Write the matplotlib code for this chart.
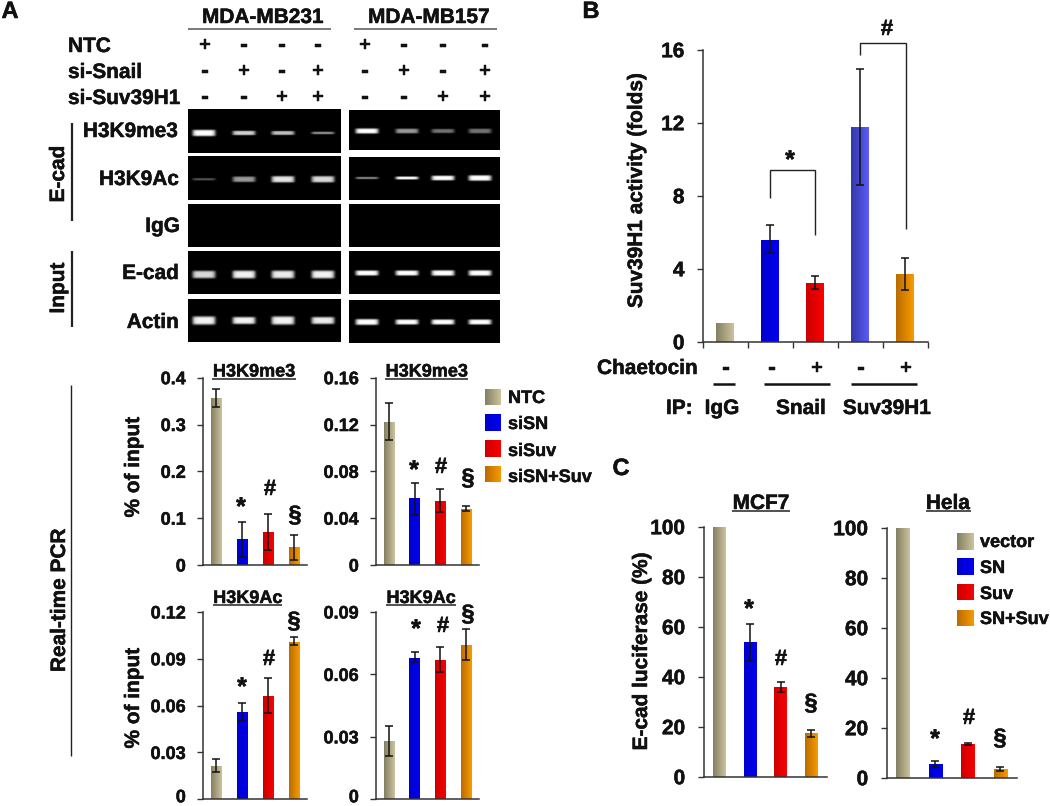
import numpy as np
import matplotlib
matplotlib.use("Agg")
import matplotlib.pyplot as plt
import matplotlib.patheffects as pe
from matplotlib.colors import LinearSegmentedColormap as LSC
from matplotlib.transforms import ScaledTranslation

plt.rcParams['font.family'] = ['Liberation Sans', 'DejaVu Sans']
plt.rcParams['font.weight'] = 'bold'
W, H = 1050, 806
TXT = '#111111'
HEAVY = [pe.withStroke(linewidth=0.35, foreground=TXT)]

# ---------- data ----------
tan = ('#857f63', '#cbc39d'); blue = ('#0000cc', '#0000f2')
red = ('#cc0000', '#fa0000'); orange = ('#b96c00', '#f89a00')
indigo = ('#3438a8', '#5a5cf6')

a1_vals = [0.357, 0.055, 0.070, 0.038]
a1_low = [0.338, 0.018, 0.033, 0.010]
a1_high = [0.375, 0.091, 0.108, 0.065]
a2_vals = [0.122, 0.057, 0.055, 0.048]
a2_low = [0.107, 0.043, 0.045, 0.046]
a2_high = [0.138, 0.070, 0.065, 0.050]
a3_vals = [0.0215, 0.056, 0.066, 0.101]
a3_low = [0.0175, 0.050, 0.055, 0.099]
a3_high = [0.0255, 0.062, 0.078, 0.104]
a4_vals = [0.028, 0.068, 0.067, 0.074]
a4_low = [0.021, 0.066, 0.061, 0.067]
a4_high = [0.035, 0.071, 0.073, 0.082]
b_vals = [1.0, 5.6, 3.2, 11.75, 3.7]
b_low = [None, 4.85, 2.9, 8.6, 2.85]
b_high = [None, 6.4, 3.6, 14.95, 4.6]
c1_vals = [100, 53.7, 35.8, 17.4]
c1_low = [None, 46.4, 33.8, 16.0]
c1_high = [None, 61.2, 37.8, 18.8]
c2_vals = [100, 5.6, 13.3, 3.4]
c2_low = [None, 4.4, 13.0, 2.5]
c2_high = [None, 6.6, 13.8, 4.2]

legend_a = ['NTC', 'siSN', 'siSuv', 'siSN+Suv']
legend_c = ['vector', 'SN', 'Suv', 'SN+Suv']
gel_rows = ['H3K9me3', 'H3K9Ac', 'IgG', 'E-cad', 'Actin']
gel_left = [[1, .82, .75, .55], [.32, .6, .9, .85], [0, 0, 0, 0], [.85, .95, .92, .95], [.95, .95, .95, .92]]
gel_right = [[1, .6, .45, .45], [.55, 1, 1, 1], [0, 0, 0, 0], [1, 1, 1, 1], [1, 1, 1, 1]]
left_th = [[3.2, 2.2, 2.0, 1.3], [1.2, 2.8, 3.2, 3.2], [1, 1, 1, 1], [3.8, 4.0, 4.0, 4.0], [4.2, 3.6, 4.2, 3.6]]
right_th = [[2.6, 2.4, 2.1, 2.4], [1.1, 1.5, 2.4, 2.8], [1, 1, 1, 1], [2.6, 2.6, 2.8, 2.8], [3.0, 2.6, 2.6, 2.6]]
sign_rows = ['NTC', 'si-Snail', 'si-Suv39H1']
signs = [['+', '-', '-', '-'], ['-', '+', '-', '+'], ['-', '-', '+', '+']]

fig = plt.figure(figsize=(W / 100, H / 100), dpi=100, facecolor='white')


def px_axes(x0, x1, ytop, ybot):
    return fig.add_axes([x0 / W, 1 - ybot / H, (x1 - x0) / W, (ybot - ytop) / H])


def grad_bars(ax, x, vals, width, cols):
    bars = ax.bar(x, vals, width=width, color=[c[1] for c in cols], zorder=2)
    for b, c in zip(bars, cols):
        im = ax.imshow(np.linspace(0, 1, 32).reshape(1, -1),
                       extent=(b.get_x(), b.get_x() + b.get_width(), 0, b.get_height()),
                       cmap=LSC.from_list('g', c), aspect='auto', zorder=2.1, interpolation='bilinear')
        im.set_clip_path(b)


def panel(box, vals, low, high, ymax, ticks, labels, cols, width, size, pad, xticks=False, lift_zero=False):
    ax = px_axes(*box)
    x = np.arange(len(vals))
    grad_bars(ax, x, vals, width, cols)
    for xi, l, h in zip(x, low, high):
        if l is not None:
            ax.errorbar(xi, (l + h) / 2, yerr=(h - l) / 2, color='#111111', lw=1.1,
                        capsize=2.6, capthick=1.1, zorder=3)
    ax.set_xlim(-0.5, len(vals) - 0.5)
    ax.set_ylim(0, ymax)
    ax.set_yticks(ticks)
    ax.set_yticklabels(labels, fontsize=size, color=TXT, fontweight='bold', path_effects=HEAVY)
    ax.tick_params(axis='y', length=4.3, width=1, color='#333333', pad=pad)
    if lift_zero:
        zero = ax.get_yticklabels()[0]
        zero.set_transform(zero.get_transform() + ScaledTranslation(0, 2.5 / 72, fig.dpi_scale_trans))
    if xticks:
        ax.set_xticks(np.arange(len(vals) + 1) - 0.5)
        ax.set_xticklabels([])
        ax.tick_params(axis='x', length=4.3, width=1, color='#333333')
    else:
        ax.set_xticks([])
    for s in ('top', 'right'):
        ax.spines[s].set_visible(False)
    for s in ('left', 'bottom'):
        ax.spines[s].set_color('#333333')
        ax.spines[s].set_linewidth(1.1)
    return ax


c4 = [tan, blue, red, orange]
panel((203, 307, 377.7, 565), a1_vals, a1_low, a1_high, 0.4, [0, .1, .2, .3, .4],
      ['0', '0.1', '0.2', '0.3', '0.4'], c4, 0.40, 13, 8)
panel((376, 479, 377.7, 565), a2_vals, a2_low, a2_high, 0.16, [0, .04, .08, .12, .16],
      ['0', '0.04', '0.08', '0.12', '0.16'], c4, 0.40, 13, 8)
panel((203, 307, 612, 799.3), a3_vals, a3_low, a3_high, 0.12, [0, .03, .06, .09, .12],
      ['0', '0.03', '0.06', '0.09', '0.12'], c4, 0.40, 13, 8, lift_zero=True)
panel((376, 479, 612, 799.3), a4_vals, a4_low, a4_high, 0.09, [0, .03, .06, .09],
      ['0', '0.03', '0.06', '0.09'], c4, 0.40, 13, 8, lift_zero=True)
panel((703, 927.5, 49.7, 341.7), b_vals, b_low, b_high, 16, [0, 4, 8, 12, 16],
      ['0', '4', '8', '12', '16'], [tan, blue, red, indigo, orange], 0.40, 15, 9, xticks=True)
panel((703.7, 826.7, 526.7, 776.7), c1_vals, c1_low, c1_high, 100, [0, 20, 40, 60, 80, 100],
      ['0', '20', '40', '60', '80', '100'], c4, 0.41, 15, 9)
panel((886.7, 1016.7, 527.7, 777.7), c2_vals, c2_low, c2_high, 100, [0, 20, 40, 60, 80, 100],
      ['0', '20', '40', '60', '80', '100'], c4, 0.41, 15, 9)

# ---------- overlay in image pixels ----------
ov = fig.add_axes([0, 0, 1, 1], zorder=10)
ov.patch.set_alpha(0)
ov.axis('off')


def T(x, y, s, size=15, ha='center', rot=0):
    if rot:
        x += 1.5
    else:
        y += 1.5
    ov.text(x, y, s, fontsize=size, ha=ha, va='center', rotation=rot, color=TXT, fontweight='bold',
            path_effects=HEAVY)


def L(xs, ys, lw=1.3, c='#222222'):
    ov.plot(xs, ys, color=c, lw=lw, solid_capstyle='butt', solid_joinstyle='miter')


def gel(x0, x1, y0, y1, centers, yc, levels, thick, halfw):
    xx = np.arange(x0, x1, 0.5) + 0.25
    yy = np.arange(y0, y1, 0.5) + 0.25
    X, Y = np.meshgrid(xx, yy)
    img = np.zeros_like(X)
    for cx, lv, th in zip(centers, levels, thick):
        if lv == 0:
            continue
        d = np.abs((X - cx) / halfw) ** 8 + np.abs((Y - yc) / th) ** 5
        img = np.maximum(img, lv * np.exp(-d))
    ov.imshow(img, extent=(x0, x1, y1, y0), cmap='gray', vmin=0, vmax=1, aspect='auto',
              interpolation='bilinear', zorder=1)


left_c = [204, 244, 283, 323]
right_c = [367, 407, 443, 480]
left_rows = [(110, 153.5, 133.7), (157, 200.5, 180), (204, 247, 225), (251, 294, 274.5), (299, 342, 320.5)]
right_rows = [(110, 150, 131), (157, 200, 178), (204, 247, 225), (251, 294, 273), (300, 343, 322)]
for r in range(5):
    a, b, yc = left_rows[r]
    gel(188, 341, a, b, left_c, yc, gel_left[r], left_th[r], 11.5)
    a, b, yc = right_rows[r]
    gel(349, 500, a, b, right_c, yc, gel_right[r], right_th[r], 11.5)

# headers
T(263, 16, 'MDA-MB231'); T(429, 16, 'MDA-MB157')
L([188, 331], [29, 29], 1.1, '#555555'); L([354, 497], [29, 29], 1.1, '#555555')
for i, (name, y) in enumerate(zip(sign_rows, [45, 71, 97])):
    T(68, y, name, ha='left')
    for s, xp in zip(signs[i], [205, 244, 282, 318]):
        T(xp, y - 1, s)
    for s, xp in zip(signs[i], [365, 404, 443, 485]):
        T(xp, y - 1, s)

for name, y, xr in zip(gel_rows, [130, 178, 225, 272, 321], [178, 179, 180, 179, 179]):
    T(xr, y, name, ha='right')

T(57, 174, 'E-cad', rot=90); L([71.5, 71.5], [123, 221], 1.6)
T(57, 288, 'Input', rot=90); L([71.5, 71.5], [251, 327], 1.6)
T(58, 600, 'Real-time PCR', rot=90); L([71, 71], [385, 756], 1.0)
T(132, 467, '% of input', rot=90); T(132, 698, '% of input', rot=90)

T(10, 10, 'A', 17); T(591, 10, 'B', 17); T(621, 467, 'C', 17)


def title(x, y, s, x0, x1, uy, size=13):
    T(x, y, s, size)
    L([x0, x1], [uy, uy], 1.2, '#333333')


title(254, 370.5, 'H3K9me3', 212, 296, 379)
title(426.7, 370.5, 'H3K9me3', 385, 468, 379)
title(247.7, 597, 'H3K9Ac', 213, 282, 604.5)
title(421, 597, 'H3K9Ac', 386, 456, 604.5)
title(761, 502, 'MCF7', 732, 790, 511, 15)
title(948, 502, 'Hela', 926, 971, 511, 15)


def mark(x, y, s):
    T(x, y + (3 if s == '*' else 0), s, {'*': 18, '#': 16, '§': 17}[s])


for x, y, s in [(241, 503, '*'), (270, 488, '#'), (295, 514, '§'), (414, 466, '*'), (441, 466, '#'), (468, 477, '§'),
                (242, 683, '*'), (269, 658, '#'), (294, 620, '§'), (416, 625, '*'), (443, 625, '#'), (468, 613, '§'),
                (749, 605, '*'), (781, 658, '#'), (811, 702, '§'), (935, 735, '*'), (969, 717, '#'), (1000, 737, '§'),
                (790, 156, '*'), (887, 28, '#')]:
    mark(x, y, s)


def swatch(x0, x1, y0, y1, c):
    ov.imshow(np.linspace(0, 1, 32).reshape(1, -1), extent=(x0, x1, y1, y0), cmap=LSC.from_list('g', c),
              aspect='auto', interpolation='bilinear', zorder=2)


for name, c, yr, yt in zip(legend_a, c4, [(389, 405), (414.5, 431), (440, 457), (466, 482)], [397, 423, 450, 476]):
    swatch(485, 501, yr[0], yr[1], c)
    T(508, yt, name, 13, ha='left')
for name, c, yr, yt in zip(legend_c, c4, [(533, 550), (558, 575), (584, 600), (610, 626)], [541, 567, 593, 618]):
    swatch(957, 973.5, yr[0], yr[1], c)
    T(980, yt, name, 13, ha='left')

# panel B annotations
L([770, 770, 815, 815], [198, 170, 170, 235], 1.0)
L([860, 860, 906, 906], [55, 43, 43, 229], 1.0)
T(635, 190, 'Suv39H1 activity (folds)', rot=90)
T(640, 651, 'E-cad luciferase (%)', rot=90)
T(597, 367, 'Chaetocin', ha='left')
for x, s in zip([726, 772, 817, 861, 906], ['-', '-', '+', '-', '+']):
    T(x, 367, s)
for a, b in [(713, 735), (764, 830), (851, 917)]:
    L([a, b], [384, 384], 1.8, '#111111')
T(666, 407, 'IP:', ha='left'); T(722, 407, 'IgG'); T(801, 407, 'Snail'); T(887, 407, 'Suv39H1')

ov.set_xlim(0, W)
ov.set_ylim(H, 0)
fig.savefig('out.png', dpi=100, facecolor='white')
